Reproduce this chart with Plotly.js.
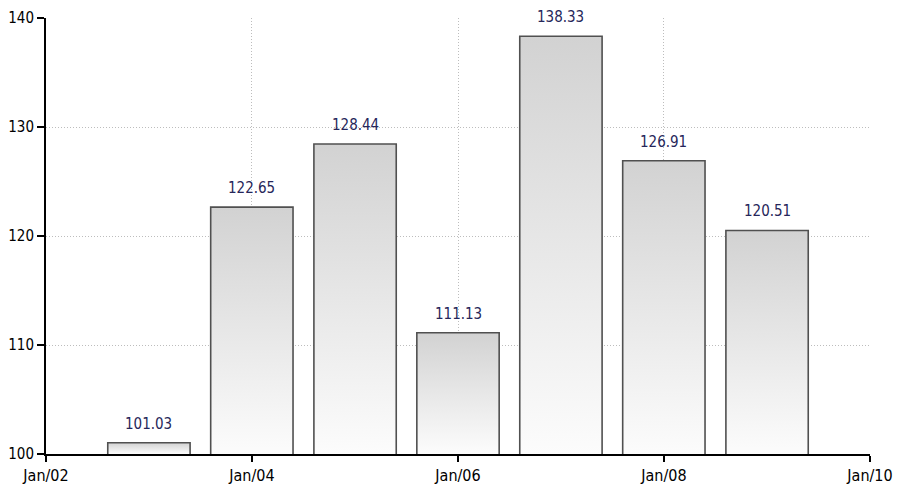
<!DOCTYPE html>
<html>
<head>
<meta charset="utf-8">
<script src="https://cdn.plot.ly/plotly-3.0.1.min.js"></script>
<style>
html,body{margin:0;padding:0;background:#fff;}
#chart{width:907px;height:486px;}
</style>
</head>
<body>
<div id="chart"></div>
<script>
const dates = ['2003-01-01','2004-01-01','2005-01-01','2006-01-01','2007-01-01','2008-01-01','2009-01-01'];
const values = [101.03, 122.65, 128.44, 111.13, 138.33, 126.91, 120.51];
const labels = ['101.03','122.65','128.44','111.13','138.33','126.91','120.51'];
const yTicks = [100, 110, 120, 130, 140];
const xRange = ['2002-01-01', '2010-01-01'];

const trace = {
  type: 'bar',
  x: dates,
  y: values,
  marker: {color: '#dcdcdc', line: {color: '#505050', width: 1.6}},
  hoverinfo: 'x+y'
};

const annotations = dates.map((d, i) => ({
  x: d, y: values[i], xref: 'x', yref: 'y',
  text: labels[i], showarrow: false,
  yanchor: 'middle', yshift: 19,
  font: {family: 'DejaVu Sans Condensed', size: 15, color: '#26265a'}
}));

const gridDash = '1px,2px';
const tickFont = {family: 'DejaVu Sans Condensed', size: 15, color: '#000'};

const layout = {
  width: 907, height: 486,
  margin: {l: 46, r: 37, t: 18, b: 32},
  paper_bgcolor: '#ffffff', plot_bgcolor: '#ffffff',
  showlegend: false,
  bargap: 0.2,
  xaxis: {
    type: 'date', range: xRange,
    tick0: '2002-01-01', dtick: 'M24', tickformat: '%b/%y',
    showgrid: true, gridcolor: '#bdbdbd', griddash: gridDash, gridwidth: 1,
    showline: true, linecolor: '#000', linewidth: 2,
    ticks: 'outside', ticklen: 6, tickcolor: '#000', tickwidth: 2,
    ticklabelstandoff: 0,
    tickfont: {family: 'DejaVu Sans Condensed', size: 16, color: '#000'},
    zeroline: false, fixedrange: true
  },
  yaxis: {
    range: [100, 140], tickvals: yTicks,
    showgrid: true, gridcolor: '#bdbdbd', griddash: gridDash, gridwidth: 1,
    showline: true, linecolor: '#000', linewidth: 2,
    ticks: 'outside', ticklen: 7, tickcolor: '#000', tickwidth: 2,
    tickfont: tickFont,
    zeroline: false, fixedrange: true
  },
  yaxis2: {
    overlaying: 'y', side: 'right', range: [100, 140], tickvals: yTicks,
    showgrid: false,
    showline: true, linecolor: '#000', linewidth: 2,
    ticks: 'outside', ticklen: 7, tickcolor: '#000', tickwidth: 2,
    tickfont: tickFont,
    zeroline: false, fixedrange: true
  },
  annotations: annotations
};

Plotly.newPlot('chart', [trace], layout, {displayModeBar: false, staticPlot: true}).then(gd => {
  const svg = gd.querySelector('svg.main-svg');
  const ns = 'http://www.w3.org/2000/svg';
  let defs = svg.querySelector('defs');
  if (!defs) { defs = document.createElementNS(ns, 'defs'); svg.insertBefore(defs, svg.firstChild); }
  const plotBottom = gd._fullLayout.yaxis._length;
  gd.querySelectorAll('.barlayer .point path').forEach((p, i) => {
    const bb = p.getBBox();
    const lg = document.createElementNS(ns, 'linearGradient');
    lg.setAttribute('id', 'barGrad' + i);
    lg.setAttribute('gradientUnits', 'userSpaceOnUse');
    lg.setAttribute('x1', '0'); lg.setAttribute('y1', String(bb.y));
    lg.setAttribute('x2', '0'); lg.setAttribute('y2', String(plotBottom));
    [['0', '#d2d2d2'], ['1', '#fcfcfc']].forEach(([o, c]) => {
      const s = document.createElementNS(ns, 'stop');
      s.setAttribute('offset', o); s.setAttribute('stop-color', c);
      lg.appendChild(s);
    });
    defs.appendChild(lg);
    p.style.fill = 'url(#barGrad' + i + ')';
  });
});
</script>
</body>
</html>
